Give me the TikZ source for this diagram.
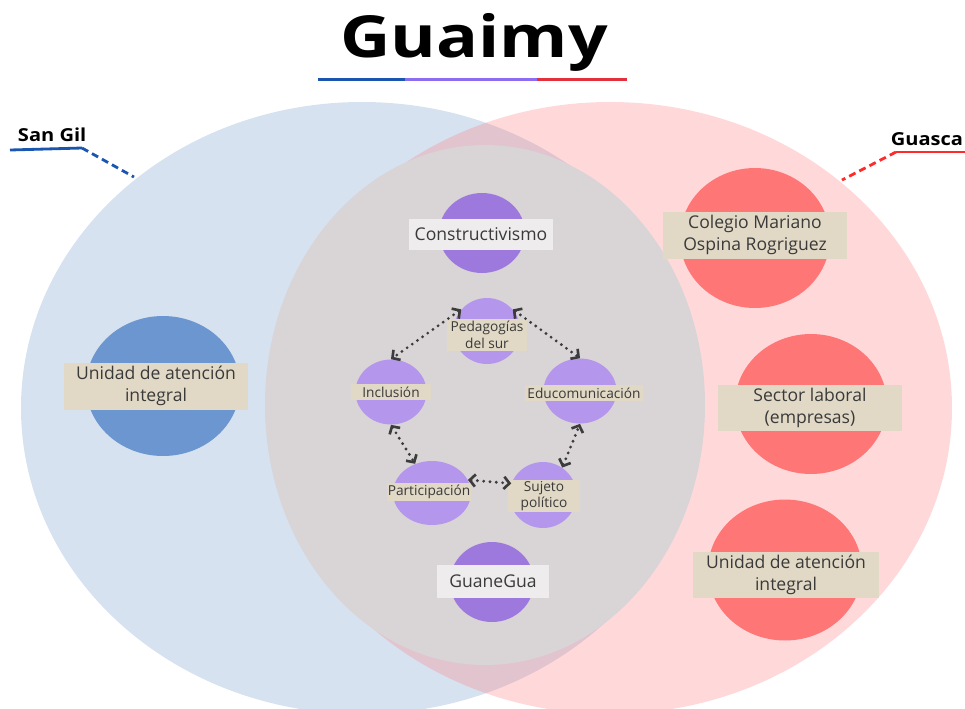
\documentclass[tikz,border=0pt]{standalone}
\usepackage{fontspec}
\setmainfont{Open Sans}
\usetikzlibrary{shapes.geometric, arrows.meta}
\definecolor{sgfield}{HTML}{D6E2F0}
\definecolor{gsfield}{HTML}{FF8084}
\definecolor{midfield}{HTML}{D9D4D6}
\definecolor{sgdisc}{HTML}{6B96CF}
\definecolor{gsdisc}{HTML}{FF7677}
\definecolor{bigdisc}{HTML}{9D79DD}
\definecolor{smalldisc}{HTML}{B497EC}
\definecolor{tagbeige}{HTML}{E1D9C6}
\definecolor{taglight}{HTML}{EEECEC}
\definecolor{tagtext}{HTML}{3A3A3A}
\definecolor{linkgrey}{HTML}{3C3C3C}
\definecolor{sgline}{HTML}{1A55B0}
\definecolor{gsline}{HTML}{FF2A2A}
\definecolor{ulpurple}{HTML}{8B6CF2}
\definecolor{ulred}{HTML}{E3303F}

\begin{document}
\begin{tikzpicture}[x=0.02cm, y=-0.02cm,
    disc/.style={ellipse, inner sep=0},
    tag/.style={fill=tagbeige, text=tagtext, inner sep=0, align=center,
      font=\fontsize{10}{12.5}\selectfont},
    smalltag/.style={tag, font=\fontsize{7.8}{9.5}\selectfont},
    place/.style={font=\bfseries\fontsize{10.2}{12}\selectfont, xscale=1.12},
    link/.style={draw=linkgrey, line width=1.8pt, dash pattern=on 0pt off 3.6pt,
      line cap=round,
      {Straight Barb[length=3.2pt, width=7pt, line width=1.5pt]}-{Straight Barb[length=3.2pt, width=7pt, line width=1.5pt]}}]
  \useasboundingbox (0, 0) rectangle (965, 708);

  \fill [sgfield] (362, 408) ellipse [x radius=341, y radius=306];
  \fill [gsfield, opacity=.3] (610, 408) ellipse [x radius=342, y radius=306];
  \fill [midfield] (485, 405) ellipse [x radius=220, y radius=260];

  \node [font=\bfseries\fontsize{33}{36}\selectfont, xscale=1.2] (title) at (474, 42) {Guaimy};
  \draw [sgline, line width=1.7pt] (318, 79) -- (405, 79);
  \draw [ulpurple, line width=1.7pt] (405, 79) -- (537, 79);
  \draw [ulred, line width=1.7pt] (537, 79) -- (627, 79);

  \node [place, anchor=base west] (sangil) at (11, 141) {San Gil};
  \coordinate (sg1) at (10, 150);
  \coordinate (sg2) at (82, 148);
  \coordinate (sg3) at (134, 177);
  \draw [sgline, line width=1.6pt] (sg1) -- (sg2);
  \draw [sgline, line width=1.6pt, dash pattern=on 4pt off 2.5pt] (sg2) -- (sg3);

  \node [place, anchor=base east] (guasca) at (970, 145) {Guasca};
  \coordinate (gs1) at (965, 152);
  \coordinate (gs2) at (896, 152);
  \coordinate (gs3) at (842, 180);
  \draw [gsline, line width=1.6pt] (gs1) -- (gs2);
  \draw [gsline, line width=1.6pt, dash pattern=on 4pt off 2.5pt] (gs2) -- (gs3);

  \node [disc, fill=sgdisc, minimum width=3.08cm, minimum height=2.8cm] (sgu) at (163, 386) {};
  \node [tag, minimum width=3.7cm, minimum height=.94cm] (sgu-t) at (156, 386) {Unidad de atención\\integral};

  \node [disc, fill=gsdisc, minimum width=3cm, minimum height=2.8cm] (cole) at (755, 238) {};
  \node [tag, minimum width=3.7cm, minimum height=.94cm] (cole-t) at (755, 235) {Colegio Mariano\\Ospina Rogriguez};
  \node [disc, fill=gsdisc, minimum width=3.04cm, minimum height=2.8cm] (sect) at (811, 404) {};
  \node [tag, minimum width=3.7cm, minimum height=.92cm] (sect-t) at (810, 408) {Sector laboral\\(empresas)};
  \node [disc, fill=gsdisc, minimum width=3.08cm, minimum height=2.82cm] (gsu) at (785, 570) {};
  \node [tag, minimum width=3.72cm, minimum height=.92cm] (gsu-t) at (786, 575) {Unidad de atención\\integral};

  \node [disc, fill=bigdisc, minimum width=1.72cm, minimum height=1.6cm] (cons) at (482, 233) {};
  \node [tag, fill=taglight, minimum width=2.9cm, minimum height=.62cm] (cons-t) at (481, 234) {Constructivismo};
  \node [disc, fill=bigdisc, minimum width=1.68cm, minimum height=1.6cm] (guan) at (492, 582) {};
  \node [tag, fill=taglight, minimum width=2.24cm, minimum height=.66cm] (guan-t) at (493, 581) {GuaneGua};

  \node [disc, fill=smalldisc, minimum width=1.34cm, minimum height=1.32cm] (ped) at (487, 331) {};
  \node [smalltag, minimum width=1.6cm, minimum height=.64cm] (ped-t) at (487, 335) {Pedagogías\\del sur};
  \node [disc, fill=smalldisc, minimum width=1.42cm, minimum height=1.3cm] (inc) at (391, 392) {};
  \node [smalltag, minimum width=1.6cm, minimum height=.32cm] (inc-t) at (391, 392) {Inclusión};
  \node [disc, fill=smalldisc, minimum width=1.46cm, minimum height=1.3cm] (edu) at (580, 391) {};
  \node [smalltag, minimum width=2.38cm, minimum height=.32cm] (edu-t) at (584, 393) {Educomunicación};
  \node [disc, fill=smalldisc, minimum width=1.56cm, minimum height=1.28cm] (par) at (432, 493) {};
  \node [smalltag, minimum width=1.68cm, minimum height=.36cm] (par-t) at (429, 492) {Participación};
  \node [disc, fill=smalldisc, minimum width=1.34cm, minimum height=1.32cm] (suj) at (543, 495) {};
  \node [smalltag, minimum width=1.46cm, minimum height=.64cm] (suj-t) at (544, 496) {Sujeto\\político};

  \draw [link] (ped.140) to (inc.north);
  \draw [link] (ped.40) to (edu.north);
  \draw [link] (inc.south) to (par.120);
  \draw [link] (par.20) to (suj.160);
  \draw [link] (suj.55) to (edu.south);
\end{tikzpicture}
\end{document}
